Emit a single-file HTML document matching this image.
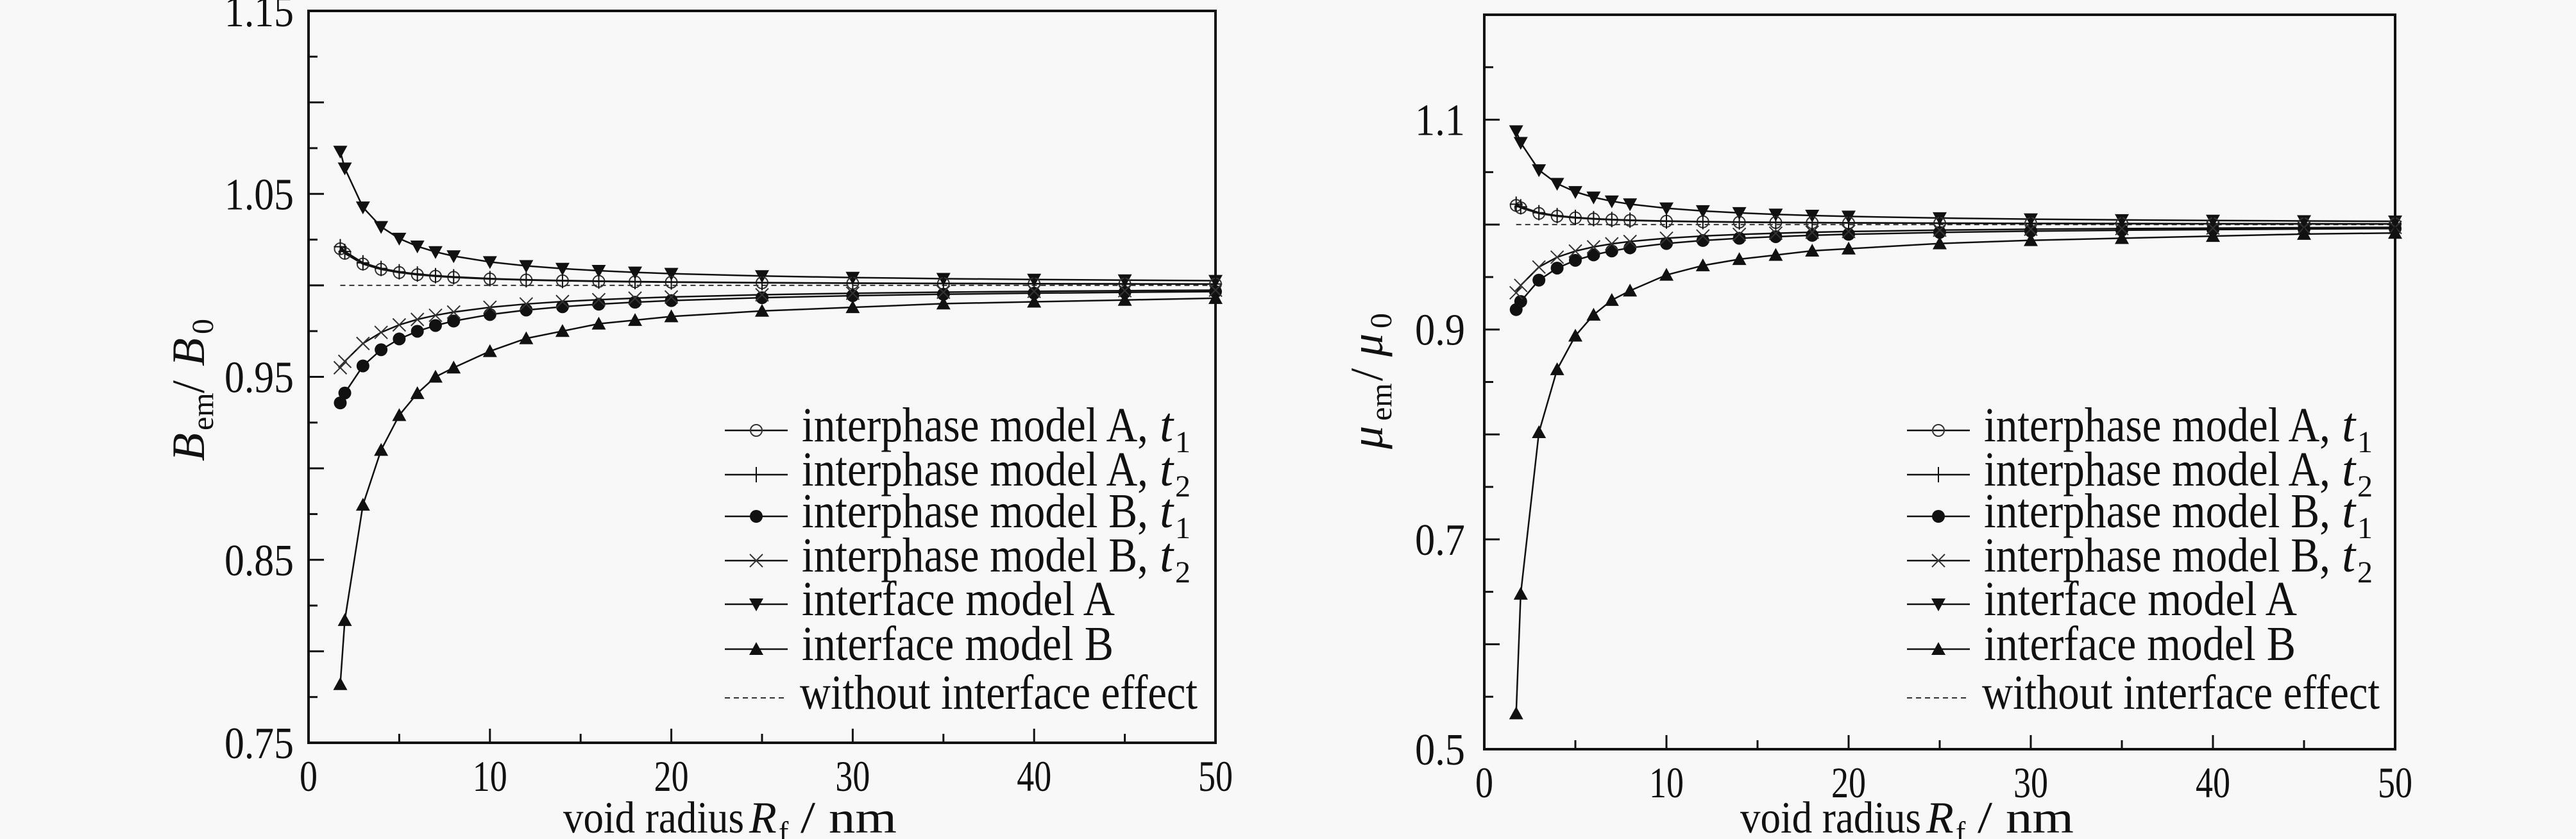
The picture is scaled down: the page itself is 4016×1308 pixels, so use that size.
<!DOCTYPE html>
<html><head><meta charset="utf-8"><style>
html,body{margin:0;padding:0;background:#f8f8f8;}
svg{display:block;}
text{font-family:"Liberation Serif",serif;fill:#111;}
</style></head><body>
<svg id="s" width="4016" height="1308" xmlns="http://www.w3.org/2000/svg"></svg>
<script>
const S=document.getElementById('s');let h='';
function P(c){
 const X=v=>c.x0+(c.x1-c.x0)*v/50, Y=v=>c.y1-(c.y1-c.y0)*(v-c.vmin)/(c.vmax-c.vmin);
 h+=`<rect x="${c.x0}" y="${c.y0}" width="${c.x1-c.x0}" height="${c.y1-c.y0}" fill="none" stroke="#111" stroke-width="4"/>`;
 // x ticks
 for(let v=0;v<=50;v+=5){const x=X(v);const L=v%10==0?22:14;
  h+=`<line x1="${x}" y1="${c.y1}" x2="${x}" y2="${c.y1-L}" stroke="#111" stroke-width="3"/>`;
  if(v%10==0){const w=v==0?28:54;h+=`<text x="${x-w/2}" y="${c.y1+75}" font-size="68" textLength="${w}" lengthAdjust="spacingAndGlyphs">${v}</text>`;}}
 // y ticks
 for(let i=0;;i++){const v=c.vmin+i*c.tstep;if(v>c.vmax+1e-9)break;const y=Y(v);const L=i%2==0?24:14;
  h+=`<line x1="${c.x0}" y1="${y}" x2="${c.x0+L}" y2="${y}" stroke="#111" stroke-width="3"/>`;}
 c.labels.forEach(l=>{const y=Y(parseFloat(l));const w=l.length==4?108:78;
  h+=`<text x="${c.lx-w}" y="${y+24}" font-size="70" textLength="${w}" lengthAdjust="spacingAndGlyphs">${l}</text>`;});
 // baseline dashed
 h+=`<line x1="${X(1.75)}" y1="${Y(1)}" x2="${X(50)}" y2="${Y(1)}" stroke="#333" stroke-width="2" stroke-dasharray="8,6"/>`;
 const xs=[1.75,2,3,4,5,6,7,8,10,12,14,16,18,20,25,30,35,40,45,50];
 c.series.forEach(s=>{
  const pts=xs.map((x,i)=>[X(x),Y(s.f?s.f(x):s.d[i])]);
  h+=`<polyline points="${pts.map(p=>p.join(',')).join(' ')}" fill="none" stroke="#111" stroke-width="2.5"/>`;
  pts.forEach(p=>h+=M(s.m,p[0],p[1]));
 });
 // legend
 const rows=[["interphase model A, ","1","o",540],["interphase model A, ","2","+",540],["interphase model B, ","1","c",540],["interphase model B, ","2","x",540],["interface  model A",null,"v",488],["interface  model B",null,"^",486],["without interface effect",null,"-",620]];
 const ry=[671,740,805,874,942,1012,1088];
 rows.forEach((r,i)=>{const y=ry[i];
  if(r[2]=='-')h+=`<line x1="${c.lg}" y1="${y}" x2="${c.lg+98}" y2="${y}" stroke="#333" stroke-width="2" stroke-dasharray="8,6"/>`;
  else{h+=`<line x1="${c.lg}" y1="${y}" x2="${c.lg+98}" y2="${y}" stroke="#111" stroke-width="2.5"/>`;h+=M(r[2],c.lg+49,y);}
  const tx=r[2]=='-'?c.lg+117:c.lg+120;
  h+=`<text x="${tx}" y="${y+17}" font-size="76" textLength="${r[3]}" lengthAdjust="spacingAndGlyphs">${r[0]}</text>`;
  if(r[1]){h+=`<text x="${tx+558}" y="${y+17}" font-size="76" font-style="italic">t</text><text x="${tx+582}" y="${y+34}" font-size="48">${r[1]}</text>`;}
 });
 // x label
 h+=`<text x="${c.xl}" y="1298" font-size="70" textLength="282" lengthAdjust="spacingAndGlyphs">void radius </text><text x="${c.xl+290}" y="1298" font-size="70" font-style="italic">R</text><text x="${c.xl+336}" y="1312" font-size="46">f</text><text x="${c.xl+370}" y="1298" font-size="70" textLength="150" lengthAdjust="spacingAndGlyphs">/ nm</text>`;
 // y label
 h+=`<g transform="translate(${c.yl},${c.ylc}) rotate(-90)">${c.ylab}</g>`;
}
function M(m,x,y){
 if(m=='o')return `<circle cx="${x}" cy="${y}" r="9" fill="none" stroke="#333" stroke-width="2"/>`;
 if(m=='+')return `<path d="M${x-10} ${y}H${x+10}M${x} ${y-12}V${y+12}" stroke="#111" stroke-width="2"/>`;
 if(m=='c')return `<circle cx="${x}" cy="${y}" r="10" fill="#111"/>`;
 if(m=='x')return `<path d="M${x-10} ${y-10}L${x+10} ${y+10}M${x+10} ${y-10}L${x-10} ${y+10}" stroke="#333" stroke-width="2"/>`;
 if(m=='v')return `<path d="M${x-11} ${y-9}H${x+11}L${x} ${y+11}Z" fill="#111"/>`;
 if(m=='^')return `<path d="M${x-11} ${y+9}H${x+11}L${x} ${y-11}Z" fill="#111"/>`;
 return '';
}
P({x0:481,x1:1895,y0:17,y1:1158,vmin:0.75,vmax:1.15,tstep:0.025,labels:["0.75","0.85","0.95","1.05","1.15"],lx:458,lg:1130,xl:878,yl:318,ylc:609,
 ylab:`<text x="-110" y="0" font-size="72" font-style="italic">B</text><text x="-62" y="14" font-size="48">em</text><text x="-4" y="0" font-size="72">/</text><text x="38" y="0" font-size="72" font-style="italic">B</text><text x="88" y="14" font-size="48">0</text>`,
 series:[
 {m:'v',f:x=>1+0.128/x},
 {m:'o',f:x=>1+0.035/x},
 {m:'+',f:x=>1+0.037/x},
 {m:'c',f:x=>1-0.175/(x+0.974)},
 {m:'x',f:x=>1-0.135/(x+1.25)},
 {m:'^',d:[0.782,0.817,0.880,0.910,0.929,0.941,0.950,0.955,0.964,0.971,0.975,0.979,0.981,0.983,0.986,0.988,0.990,0.991,0.992,0.993]}
 ]});
P({x0:2314,x1:3734,y0:23,y1:1168,vmin:0.5,vmax:1.2,tstep:0.05,labels:["0.5","0.7","0.9","1.1"],lx:2284,lg:2973,xl:2713,yl:2155,ylc:590,
 ylab:`<text x="-110" y="0" font-size="72" font-style="italic">μ</text><text x="-66" y="14" font-size="48">em</text><text x="-4" y="0" font-size="72">/</text><text x="34" y="0" font-size="72" font-style="italic">μ</text><text x="78" y="14" font-size="48">0</text>`,
 series:[
 {m:'v',f:x=>1+0.156/x},
 {m:'o',f:x=>1+0.032/x},
 {m:'+',f:x=>1+0.034/x},
 {m:'c',f:x=>1-0.191/(x+0.607)},
 {m:'x',f:x=>1-0.134/(x+0.3125)},
 {m:'^',d:[0.534,0.648,0.802,0.862,0.894,0.914,0.928,0.937,0.952,0.961,0.967,0.971,0.975,0.977,0.982,0.985,0.987,0.989,0.991,0.992]}
 ]});
S.innerHTML=h;
</script>
</body></html>
